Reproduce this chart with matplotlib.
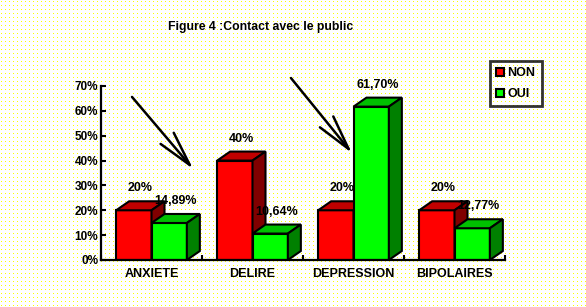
import numpy as np
import matplotlib
matplotlib.use("Agg")
import matplotlib.pyplot as plt
from matplotlib.patches import Polygon, Patch

categories = ["ANXIETE", "DELIRE", "DEPRESSION", "BIPOLAIRES"]
non_values = [20, 40, 20, 20]
oui_values = [14.89, 10.64, 61.70, 12.77]
series_names = ["NON", "OUI"]
yticks = [0, 10, 20, 30, 40, 50, 60, 70]
title = "Figure 4 :Contact avec le public"

W, H, DPI = 586, 307, 100
fig = plt.figure(figsize=(W / DPI, H / DPI), dpi=DPI)
fig.patch.set_facecolor("white")

# dotted yellow background
bg = np.ones((H, W, 3))
yy, xx = np.mgrid[0:H, 0:W]
mask = (xx % 4 == 1) & (yy % 4 == 1)
bg[mask] = [1.0, 1.0, 0.0]
fig.figimage(bg, xo=0, yo=0, zorder=-10)

FONT = "Liberation Sans"

ax = fig.add_axes([101 / W, 1 - 260 / H, 404 / W, 174 / H])
ax.set_zorder(5)
ax.set_facecolor("none")
ax.set_xlim(0, 4)
ax.set_ylim(0, 70)

dx = 13 / 101.0
dy = 9 / (174 / 70.0)
bw = 0.35
off = 0.15

colors = {
    "NON": ("#FF0000", "#C00000", "#800000"),
    "OUI": ("#00FF00", "#00C000", "#008000"),
}


def fmt(v):
    if float(v).is_integer():
        return "%d%%" % v
    return ("%.2f%%" % v).replace(".", ",")


for i in range(len(categories)):
    for k, (name, vals) in enumerate(zip(series_names, [non_values, oui_values])):
        v = vals[i]
        x0 = i + off + k * bw
        x1 = x0 + bw
        front, top, side = colors[name]
        z = 2 + k
        ax.bar(x0, v, width=bw, align="edge", color=front, edgecolor="black",
               linewidth=1.5, zorder=z)
        ax.add_patch(Polygon([(x0, v), (x0 + dx, v + dy), (x1 + dx, v + dy), (x1, v)],
                             closed=True, facecolor=top, edgecolor="black",
                             linewidth=1.5, zorder=z, clip_on=False, joinstyle="miter"))
        ax.add_patch(Polygon([(x1, 0), (x1 + dx, dy), (x1 + dx, v + dy), (x1, v)],
                             closed=True, facecolor=side, edgecolor="black",
                             linewidth=1.5, zorder=z, clip_on=False, joinstyle="miter"))
        ax.text((x0 + x1) / 2 + dx / 2, v + 8.8, fmt(v), ha="center", va="center",
                fontsize=9, fontweight="bold", family=FONT, zorder=10, clip_on=False)

# axes styling
for s in ["top", "right"]:
    ax.spines[s].set_visible(False)
for s in ["left", "bottom"]:
    ax.spines[s].set_linewidth(1.6)
    ax.spines[s].set_zorder(6)

ax.set_yticks(yticks)
ax.set_yticklabels(["%d%%" % t for t in yticks], fontsize=8.5, fontweight="bold", family=FONT)
ax.tick_params(axis="y", direction="in", length=3.5, width=1.5, pad=2)

ax.set_xticks(range(len(categories) + 1))
ax.set_xticklabels([""] * (len(categories) + 1))
ax.tick_params(axis="x", which="major", direction="in", length=3.5, width=1.5)
ax.set_xticks([i + 0.5 for i in range(len(categories))], minor=True)
ax.set_xticklabels(categories, minor=True, fontsize=9, fontweight="bold", family=FONT)
ax.tick_params(axis="x", which="minor", length=0, pad=6)

# arrows
arrows = [((0.913, 36.6), (0.307, 65.6)), ((2.485, 43.0), (1.881, 73.2))]
for tip, tail in arrows:
    ax.annotate("", xy=tip, xytext=tail, annotation_clip=False,
                arrowprops=dict(arrowstyle="->,head_length=1.26,head_width=0.31",
                                mutation_scale=20, color="black", lw=1.8,
                                shrinkA=0, shrinkB=0), zorder=8)

# legend
handles = [Patch(facecolor=colors[n][0], edgecolor="black", linewidth=1.5) for n in series_names]
leg = fig.legend(handles, series_names, loc="upper left",
                 bbox_to_anchor=(490 / W, 1 - 61 / H), borderaxespad=0,
                 prop=dict(family=FONT, weight="bold", size=9),
                 handlelength=0.6, handleheight=0.6, handletextpad=0.3,
                 labelspacing=0.7, borderpad=0.5, fancybox=False, frameon=True)
leg.get_frame().set_edgecolor("black")
leg.get_frame().set_linewidth(2)
leg.get_frame().set_facecolor("none")

fig.text(261 / W, 1 - 27 / H, title, ha="center", va="center", fontsize=8.8,
         fontweight="bold", family=FONT)

fig.savefig("out.png", dpi=DPI)
